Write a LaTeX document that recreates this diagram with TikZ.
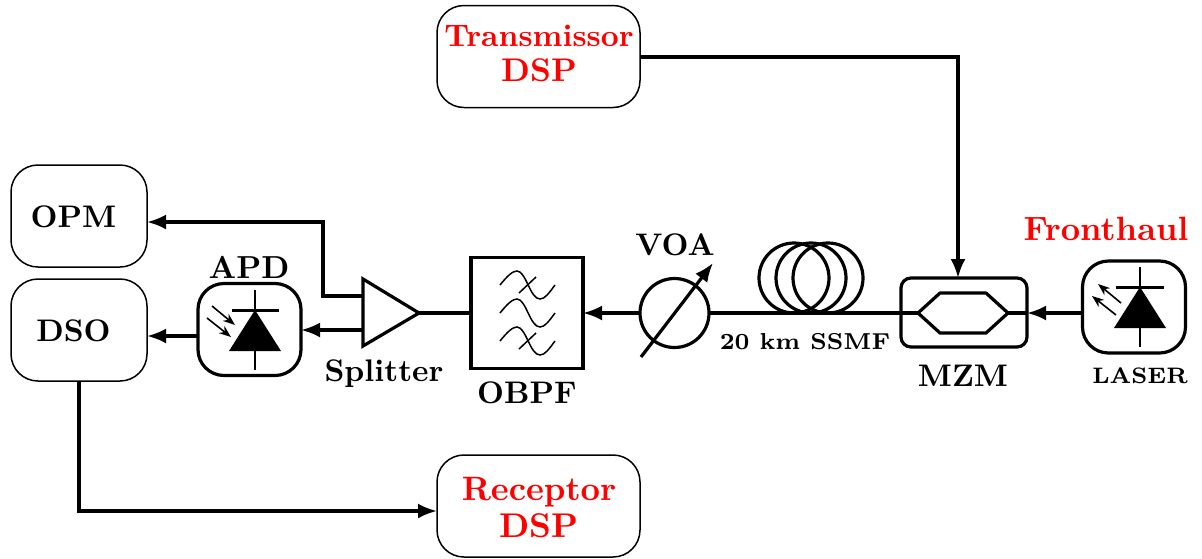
\documentclass[tikz,border=0pt]{standalone}
\usetikzlibrary{arrows.meta}
\tikzset{
  lbl/.style={scale=3.12,inner sep=0pt,font=\bfseries,text=black},
  lblred/.style={lbl,text=red},
  smalllbl/.style={scale=3.3,inner sep=0pt,font=\scriptsize\bfseries},
  blockbox/.style={draw,line width=1.5pt,rounded corners=27pt,minimum width=136pt,minimum height=102pt,inner sep=0pt,outer sep=0pt},
  dspbox/.style={blockbox,minimum width=203pt},
  diodebox/.style={draw,line width=3.2pt,rounded corners=26pt,minimum width=103pt,minimum height=92pt,inner sep=0pt,outer sep=0pt},
  link/.style={line width=3.2pt},
  arr/.style={link,-{Latex[length=19pt,width=15pt]}},
  thinl/.style={line width=2pt},
  sm/.style={line width=1.6pt,-{Stealth[length=12pt,width=9pt]}},
  wave/.style={line width=1.5pt}
}
\begin{document}
\begin{tikzpicture}[x=1pt,y=-1pt]
\useasboundingbox (0,0) rectangle (1202,558);
% blocks
\node[blockbox] (opm) at (79,216) {};
\node[blockbox] (dso) at (79,330) {};
\node[dspbox] (tx) at (538.5,56.5) {};
\node[dspbox] (rx) at (538.5,506) {};
\node[diodebox] (apd) at (249.5,329.5) {};
\node[diodebox] (laser) at (1134,307) {};
\node[draw,line width=3.2pt,minimum width=112pt,minimum height=111pt,inner sep=0pt,outer sep=0pt] (obpf) at (527,313) {};
\node[draw,circle,line width=3.2pt,minimum size=69pt,inner sep=0pt,outer sep=0pt] (voa) at (674.5,313) {};
\node[draw,line width=3.2pt,rounded corners=10pt,minimum width=126pt,minimum height=69pt,inner sep=0pt,outer sep=0pt] (mzm) at (964,312.5) {};
% named points
\coordinate (sptop) at (363,279);
\coordinate (spbot) at (363,346);
\coordinate (sptip) at (419,313);
\coordinate (spa) at (363,296);
\coordinate (spb) at (363,330);
\coordinate (bend) at (323,222);
\coordinate (hw) at (918,313);
\coordinate (he) at (1008,313);
\coordinate (apdout) at (198,336);
\coordinate (txbend) at (958,57);
\coordinate (rxbend) at (79,511);
% texts
\node[lbl,scale=1] at (73.5,217) {OPM};
\node[lbl] at (73.5,331) {DSO};
\node[lbl,scale=1.02] at (249,267) {APD};
\node[lbl] at (384,374) {Splitter};
\node[lbl] at (527,393) {OBPF};
\node[lbl] at (675,245) {VOA};
\node[smalllbl] at (805,342) {20 km SSMF};
\node[lbl] at (963,376) {MZM};
\node[smalllbl,scale=0.97] at (1140,376) {LASER};
\node[lblred,scale=1.08] at (1106,229) {Fronthaul};
\node[lblred] at (539,36) {Transmissor};
\node[lblred,scale=1.05] at (539,70) {DSP};
\node[lblred,scale=1.085] at (539,492) {Receptor};
\node[lblred,scale=1.1] at (539,526) {DSP};
% splitter
\draw[link,line join=miter] (sptop) -- (sptip) -- (spbot) -- cycle;
% connectors
\draw[arr] (spa) -| (bend) -- (bend -| opm.east);
\draw[arr] (spb) -- (spb -| apd.east);
\draw[arr] (apdout) -- (apdout -| dso.east);
\draw[link] (sptip) -- (obpf.west);
\draw[arr] (voa.west) -- (obpf.east);
\draw[link] (voa.east) -- (hw);
\draw[link] (he) -- (he -| mzm.east);
\draw[arr] (laser.west |- he) -- (mzm.east |- he);
\draw[arr] (tx.east |- txbend) -- (txbend) -- (txbend |- mzm.north);
\draw[arr] (dso.south) -- (rxbend) -- (rxbend -| rx.west);
% VOA pointer
\draw[link,-{Latex[length=19pt,width=15pt]}] (641,357) -- (713,263);
% fibre coil
\draw[link] (794,278) circle (35);
\draw[link] (811,278) circle (35);
\draw[link] (828,278) circle (35);
% MZM arms
\draw[link,line join=round] (hw) -- (940,293) -- (986,293) -- (he) -- (986,333) -- (940,333) -- cycle;
% filter waves
\foreach \dy in {0,28,56}{
  \draw[wave] (500,285+\dy) .. controls (508,275+\dy) and (513,271+\dy) .. (517,271+\dy)
     .. controls (526,271+\dy) and (530,299+\dy) .. (540,299+\dy)
     .. controls (545,299+\dy) and (549,293+\dy) .. (555,285+\dy);
}
\draw[wave] (519,293) -- (536,277);
\draw[wave] (519,349) -- (536,333);
% APD diode
\draw[thinl] (255,290) -- (255,370);
\fill (255,310) -- (281,351) -- (229,351) -- cycle;
\draw[line width=3pt] (232,310) -- (279,310);
\draw[sm] (212,306) -- (235,325);
\draw[sm] (207,318) -- (231,337);
% Laser diode
\draw[thinl] (1140,267) -- (1140,347);
\fill (1140,287) -- (1166,328) -- (1114,328) -- cycle;
\draw[line width=3pt] (1116,287) -- (1164,287);
\draw[sm] (1121,303) -- (1098,284);
\draw[sm] (1116,315) -- (1092,296);
\end{tikzpicture}
\end{document}
